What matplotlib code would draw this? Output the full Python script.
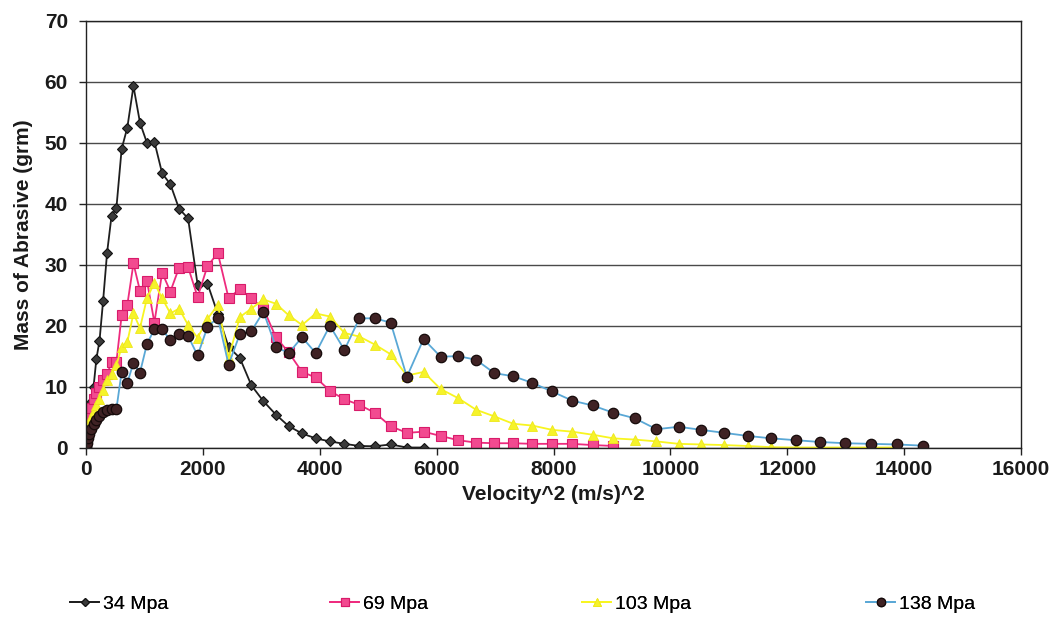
import numpy as np
import matplotlib
matplotlib.use("Agg")
import matplotlib.pyplot as plt

plt.rcParams['font.family'] = ['Liberation Sans', 'DejaVu Sans']

# velocity^2 bins (m/s)^2, shared by all four pressure series
vel_sq = [0, 4, 14, 32, 58, 90, 130, 177, 231, 292, 361, 437, 520, 610, 707,
          812, 924, 1043, 1170, 1303, 1444, 1592, 1747, 1910, 2079, 2256,
          2440, 2632, 2830, 3036, 3249, 3469, 3697, 3931, 4173, 4422, 4679,
          4942, 5213, 5491, 5776, 6068, 6368, 6674, 6989, 7310, 7639, 7974,
          8317, 8668, 9025, 9390, 9762, 10141, 10528, 10921, 11322, 11730,
          12145, 12567, 12996, 13433, 13876, 14328]

mass_34 = [0, 0.3, 1.2, 2.8, 5.0, 7.5, 10.0, 14.5, 17.5, 24.0, 32.0, 38.0,
           39.3, 49.0, 52.5, 59.3, 53.3, 50.0, 50.2, 45.0, 43.2, 39.2, 37.6,
           26.7, 26.9, 21.9, 16.5, 14.7, 10.2, 7.6, 5.4, 3.5, 2.3, 1.5, 1.0,
           0.6, 0.25, 0.2, 0.5, 0.0, 0.0]

mass_69 = [0, 1.0, 2.0, 3.5, 5.0, 6.5, 8.0, 9.0, 10.0, 11.0, 12.0, 14.0,
           14.0, 21.7, 23.4, 30.2, 25.7, 27.4, 20.5, 28.7, 25.6, 29.5, 29.6,
           24.7, 29.8, 31.9, 24.5, 26.0, 24.5, 22.8, 18.1, 15.6, 12.4, 11.5,
           9.3, 7.9, 7.0, 5.7, 3.5, 2.4, 2.6, 1.9, 1.2, 0.8, 0.7, 0.7, 0.6,
           0.6, 0.6, 0.4, 0.25]

mass_103 = [0, 0.5, 1.5, 2.8, 4.0, 5.0, 6.0, 7.0, 8.0, 9.5, 11.0, 12.0,
            13.5, 16.5, 17.3, 22.0, 19.6, 24.5, 27.0, 24.5, 22.0, 22.8, 20.1,
            18.0, 21.1, 23.4, 14.7, 21.4, 22.8, 24.3, 23.6, 21.7, 20.1, 22.0,
            21.5, 18.8, 18.2, 16.9, 15.3, 11.8, 12.4, 9.6, 8.1, 6.2, 5.1, 3.9,
            3.6, 2.9, 2.6, 2.1, 1.5, 1.3, 1.0, 0.6, 0.5, 0.4, 0.25, 0.05,
            0.0, 0.0, 0.0, 0.0, 0.0]

mass_138 = [0, 0.3, 0.8, 1.5, 2.2, 3.0, 3.8, 4.5, 5.2, 5.8, 6.2, 6.3, 6.3,
            12.4, 10.6, 13.9, 12.3, 17.0, 19.4, 19.4, 17.6, 18.6, 18.3, 15.1,
            19.8, 21.3, 13.6, 18.6, 19.1, 22.3, 16.5, 15.5, 18.1, 15.5, 20.0,
            16.0, 21.2, 21.2, 20.5, 11.6, 17.8, 14.9, 15.0, 14.4, 12.2, 11.7,
            10.6, 9.2, 7.7, 6.9, 5.7, 4.8, 3.0, 3.4, 2.9, 2.4, 1.9, 1.5, 1.2,
            0.9, 0.7, 0.6, 0.5, 0.3]

labels = ['34 Mpa', '69 Mpa', '103 Mpa', '138 Mpa']

fig = plt.figure(figsize=(10.57, 6.18), dpi=100)
ax = fig.add_axes([86 / 1057, 1 - 447.5 / 618, 935 / 1057, 426.5 / 618])

lines = []
lines += ax.plot(vel_sq[:len(mass_34)], mass_34, color='#1e1e1e', lw=1.3,
                 marker='D', ms=5, mfc='#3a3a3a', mec='#111111', mew=0.8)
lines += ax.plot(vel_sq[:len(mass_69)], mass_69, color='#ee2b7e', lw=1.3,
                 marker='s', ms=6.5, mfc='#f24a90', mec='#d81b6a', mew=0.8)
lines += ax.plot(vel_sq[:len(mass_103)], mass_103, color='#f8f520', lw=1.3,
                 marker='^', ms=7, mfc='#f6f32a', mec='#eee81a', mew=0.6)
lines += ax.plot(vel_sq[:len(mass_138)], mass_138, color='#5aa8d6', lw=1.3,
                 marker='o', ms=7.5, mfc='#3f2224', mec='#150a0a', mew=0.9)

ax.set_xlim(0, 16000)
ax.set_ylim(0, 70)
ax.set_xticks(np.arange(0, 16001, 2000))
ax.set_yticks(np.arange(0, 71, 10))
ax.yaxis.grid(True, color='#4a4a4a', lw=1.0)
ax.set_axisbelow(True)
for s in ax.spines.values():
    s.set_color('#222222')
    s.set_linewidth(1.0)
ax.tick_params(axis='both', direction='out', length=5, width=1.0,
               colors='#222222', labelsize=15, labelcolor='#1a1a1a')
ax.tick_params(axis='y', pad=8)
ax.tick_params(axis='x', pad=4)
for t in ax.get_xticklabels() + ax.get_yticklabels():
    t.set_fontweight('bold')

ax.set_xlabel('Velocity^2 (m/s)^2', fontsize=15, fontweight='bold',
              color='#1a1a1a', labelpad=4)
ax.set_ylabel('Mass of Abrasive (grm)', fontsize=15, fontweight='bold',
              color='#1a1a1a', labelpad=8)

# one legend entry per slot along the bottom
legend_x = [70, 330, 582, 866]
for line, lab, lx in zip(lines, labels, legend_x):
    leg = fig.legend([line], [lab], loc='center left',
                     bbox_to_anchor=(lx / 1057, 1 - 604 / 618),
                     frameon=False, fontsize=14, handlelength=1.5,
                     handletextpad=0.2, borderpad=0, borderaxespad=0,
                     markerscale=0.8)
    fig.add_artist(leg)

fig.savefig('out.png', dpi=100)
